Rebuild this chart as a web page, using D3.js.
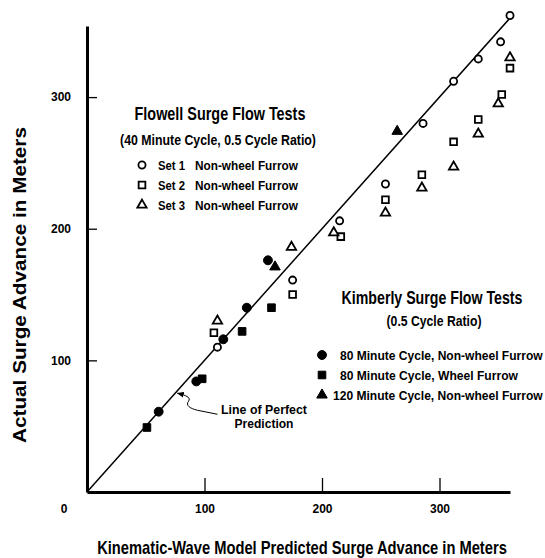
<!DOCTYPE html>
<html>
<head>
<meta charset="utf-8">
<script src="https://cdn.jsdelivr.net/npm/d3@7"></script>
<style>
  body { margin: 0; background: #fff; }
  svg { display: block; }
  text { font-family: "Liberation Sans Narrow", "Arial Narrow", "Liberation Sans", Arial, sans-serif; font-weight: bold; fill: #000; }
</style>
</head>
<body>
<div id="chart"></div>
<script>
// Values: [predicted, actual] surge advance in meters
var flowellSet1 = [[111, 110], [175, 161], [215, 206], [254, 234], [286, 280], [312, 312], [333, 329], [352, 342], [360, 362]];
var flowellSet2 = [[108, 121], [175, 150], [216, 194], [254, 222], [285, 241], [312, 266], [333, 283], [353, 302], [360, 322]];
var flowellSet3 = [[111, 130], [174, 186], [210, 197], [254, 212], [285, 231], [312, 247], [333, 272], [350, 295], [360, 330]];
var kimberly80NonWheel = [[61, 61], [93, 84], [116, 116], [136, 140], [154, 176]];
var kimberly80Wheel = [[51, 49], [98, 86], [132, 122], [157, 140]];
var kimberly120NonWheel = [[160, 171], [264, 274]];

var xTicks = [100, 200, 300];
var yTicks = [100, 200, 300];

var flowellLabels = ["Set 1", "Set 2", "Set 3"];
var kimberlyLabels = ["80 Minute Cycle, Non-wheel Furrow", "80 Minute Cycle, Wheel Furrow", "120 Minute Cycle, Non-wheel Furrow"];

// Size of the page
var width = 545,
    height = 558;

var svg = d3.select("#chart")
  .append("svg")
    .attr("width", width)
    .attr("height", height);

// Writes a text and squeezes/stretches it horizontally to the width it has in the figure
function fitText(x0, y0, str, size, target, anchor, rotate) {
  var t = svg.append("text")
    .attr("font-size", size + "px")
    .attr("text-anchor", anchor || "start")
    .text(str);
  var k = target / t.node().getComputedTextLength();
  t.attr("transform", "translate(" + x0 + "," + y0 + ")" +
    (rotate ? " rotate(" + rotate + ")" : "") + " scale(" + k + ",1)");
  return t;
}

// Scales
var x = d3.scaleLinear()
  .domain([0, 360])
  .range([87, 510]);
var y = d3.scaleLinear()
  .domain([0, 354])
  .range([492, 26]);

// X axis, ticks pointing inward
var xAxis = svg.append("g")
  .attr("transform", "translate(0," + y(0) + ")")
  .call(d3.axisBottom(x).tickValues(xTicks).tickSize(-14).tickSizeOuter(0).tickPadding(12));

// Y axis
var yAxis = svg.append("g")
  .attr("transform", "translate(" + x(0) + ",0)")
  .call(d3.axisLeft(y).tickValues(yTicks).tickSize(-10).tickSizeOuter(0).tickPadding(16));

[xAxis, yAxis].forEach(function(a) {
  a.attr("font-family", null).attr("font-size", null);
  a.select(".domain").attr("stroke", "#000").attr("stroke-width", 3);
  a.selectAll(".tick line").attr("stroke", "#000").attr("stroke-width", 1.3);
  a.selectAll(".tick text").attr("font-size", "12px").attr("fill", "#000");
});

// shared origin label
svg.append("text")
  .attr("x", x(0) - 23)
  .attr("y", y(0) + 21)
  .attr("text-anchor", "middle")
  .attr("font-size", "12px")
  .text("0");

// Axis titles
fitText(302, 554, "Kinematic-Wave Model Predicted Surge Advance in Meters", 18, 410, "middle");
fitText(26, 285, "Actual Surge Advance in Meters", 18, 316, "middle", -90)
  .style("font-family", "'Liberation Sans', Arial, sans-serif");

// Line of perfect prediction
svg.append("line")
  .attr("x1", x(0))
  .attr("y1", y(0))
  .attr("x2", x(360))
  .attr("y2", y(360))
  .attr("stroke", "#000")
  .attr("stroke-width", 1.5);

// Annotation arrow
svg.append("defs").append("marker")
  .attr("id", "head")
  .attr("viewBox", "0 0 10 10")
  .attr("refX", 9)
  .attr("refY", 5)
  .attr("markerWidth", 7)
  .attr("markerHeight", 7)
  .attr("orient", "auto")
  .append("path")
    .attr("d", "M0,1 L10,5 L0,9 z")
    .attr("fill", "#000");

var tipX = x(77), tipY = y(75);
svg.append("path")
  .attr("d", "M" + (tipX + 40) + "," + (tipY + 21) +
             " L" + (tipX + 20) + "," + (tipY + 17) +
             " C" + (tipX + 12) + "," + (tipY + 15) + " " + (tipX + 8) + "," + (tipY + 12) + " " + (tipX + 11) + "," + (tipY + 8) +
             " C" + (tipX + 14) + "," + (tipY + 4) + " " + (tipX + 8) + "," + (tipY + 2) + " " + tipX + "," + tipY)
  .attr("fill", "none")
  .attr("stroke", "#000")
  .attr("stroke-width", 1)
  .attr("marker-end", "url(#head)");

fitText(264, 414, "Line of Perfect", 13, 86, "middle");
fitText(264, 428, "Prediction", 13, 59, "middle");

// Symbol styles for each series
var series = [
  { data: flowellSet1, type: d3.symbolCircle, size: 40, filled: false },
  { data: flowellSet2, type: d3.symbolSquare, size: 45, filled: false },
  { data: flowellSet3, type: d3.symbolTriangle, size: 38, filled: false },
  { data: kimberly80NonWheel, type: d3.symbolCircle, size: 62, filled: true },
  { data: kimberly80Wheel, type: d3.symbolSquare, size: 58, filled: true },
  { data: kimberly120NonWheel, type: d3.symbolTriangle, size: 48, filled: true }
];

function drawSymbol(g, s) {
  return g.append("path")
    .attr("d", d3.symbol().type(s.type).size(s.size)())
    .attr("fill", s.filled ? "#000" : "#fff")
    .attr("stroke", "#000")
    .attr("stroke-width", s.filled ? 1 : 1.8);
}

series.forEach(function(s) {
  s.data.forEach(function(d) {
    var g = svg.append("g")
      .attr("transform", "translate(" + x(d[0]) + "," + y(d[1]) + ")");
    drawSymbol(g, s);
  });
});

// Flowell legend
fitText(220, 120, "Flowell Surge Flow Tests", 19, 171, "middle");
fitText(218, 145, "(40 Minute Cycle, 0.5 Cycle Ratio)", 14, 196, "middle");

flowellLabels.forEach(function(lab, i) {
  var cy = 165 + i * 20;
  var g = svg.append("g").attr("transform", "translate(142," + cy + ")");
  drawSymbol(g, series[i]);
  fitText(158, cy + 5, lab, 13, 27);
  fitText(195, cy + 5, "Non-wheel Furrow", 13, 103);
});

// Kimberly legend
fitText(432, 304, "Kimberly Surge Flow Tests", 18, 181, "middle");
fitText(434, 326, "(0.5 Cycle Ratio)", 14, 95, "middle");

var kimberlyTextX = [340, 340, 333];
var kimberlyTextW = [203, 178, 210];
kimberlyLabels.forEach(function(lab, i) {
  var cy = 355 + i * 20;
  var g = svg.append("g").attr("transform", "translate(322," + cy + ")");
  drawSymbol(g, series[i + 3]);
  fitText(kimberlyTextX[i], cy + 5, lab, 13, kimberlyTextW[i]);
});
</script>
</body>
</html>
